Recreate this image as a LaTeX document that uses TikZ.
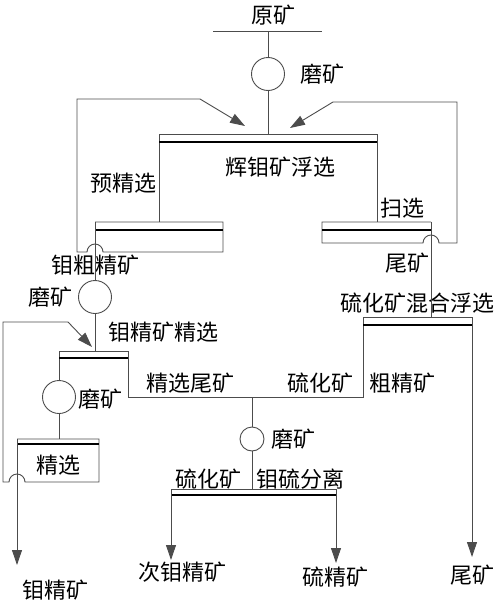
\documentclass[tikz,border=0pt]{standalone}
\usepackage{fontspec}
\setmainfont{Noto Sans CJK SC}
\usetikzlibrary{arrows.meta}

\begin{document}
\begin{tikzpicture}[x=1pt,y=-1pt,
  flow/.style={draw=black!70,line width=0.9pt},
  bar/.style={draw=black,line width=2.2pt},
  mill/.style={circle,draw=black!70,line width=0.9pt,minimum size=33pt,inner sep=0pt},
  smallmill/.style={mill,minimum size=24pt},
  lbl/.style={font=\fontsize{22}{24}\selectfont,inner sep=0pt},
  flowarrow/.style={flow,-{Triangle[length=15pt,width=10pt]}}]
\useasboundingbox (0,0) rectangle (500,605);

% points of the sheet
\coordinate (feedL) at (213,31);
\coordinate (feedR) at (322,31);
\coordinate (rough-l) at (159,134);
\coordinate (rough-r) at (377,134);
\coordinate (pre-l) at (95,222);
\coordinate (pre-r) at (223,222);
\coordinate (scav-l) at (322,222);
\coordinate (scav-r) at (431,222);
\coordinate (clean-l) at (59,351);
\coordinate (clean-r) at (128,351);
\coordinate (final-l) at (17,439);
\coordinate (final-r) at (99,439);
\coordinate (bulk-l) at (363,317);
\coordinate (bulk-r) at (472,317);
\coordinate (sep-l) at (171,489);
\coordinate (sep-r) at (336,489);
\coordinate (ret1) at (77,99);
\coordinate (ret1a) at (200,99);
\coordinate (rough-in1) at (245,126);
\coordinate (ret2) at (457,102);
\coordinate (ret2a) at (333,102);
\coordinate (rough-in2) at (290,128);
\coordinate (ret3) at (3,322);
\coordinate (ret3a) at (68,322);
\coordinate (clean-in) at (92,347);
\coordinate (mid-j) at (252,397);
\coordinate (conc-tip) at (17,565);
\coordinate (tail-tip) at (472,557);
\coordinate (moii-tip) at (171,560);
\coordinate (sulf-tip) at (336,563);

% mills
\node[mill] (mill1) at (268,74) {};
\node[mill] (mill2) at (95,297) {};
\node[mill] (mill3) at (59,397) {};
\node[smallmill] (mill4) at (252,439) {};

% texts
\node[lbl] (ore) at (273,15) {原矿};
\node[lbl] (mill1-t) at (322,74) {磨矿};
\node[lbl] (rough-t) at (280,167) {辉钼矿浮选};
\node[lbl] (pre-t) at (123,183) {预精选};
\node[lbl] (scav-t) at (402,208) {扫选};
\node[lbl] (rc-t) at (95,265) {钼粗精矿};
\node[lbl] (st-t) at (407,263) {尾矿};
\node[lbl] (mill2-t) at (50,297) {磨矿};
\node[lbl] (bulk-t) at (417,303) {硫化矿混合浮选};
\node[lbl] (clean-t) at (163,332) {钼精矿精选};
\node[lbl] (ct-t) at (190,383) {精选尾矿};
\node[lbl] (sm-t) at (320,383) {硫化矿};
\node[lbl] (bc-t) at (402,383) {粗精矿};
\node[lbl,anchor=west] (mill3-t) at (78,399) {磨矿};
\node[lbl] (mill4-t) at (293,439) {磨矿};
\node[lbl] (final-t) at (58,465) {精选};
\node[lbl] (sm2-t) at (208,479) {硫化矿};
\node[lbl] (sep-t) at (300,479) {钼硫分离};
\node[lbl] (moii-t) at (182,572) {次钼精矿};
\node[lbl] (sulf-t) at (335,577) {硫精矿};
\node[lbl] (tail-t) at (472,575) {尾矿};
\node[lbl] (conc-t) at (55,590) {钼精矿};

% feed and rougher
\draw[flow] (feedL) -- (feedR);
\draw[flow] (mill1.north) -- (mill1.north |- feedL);
\draw[flow] (mill1.south) -- (mill1 |- rough-l);
\draw[flow] (rough-l |- pre-l) -- (rough-l) -- (rough-r) -- (rough-r |- scav-l);
\draw[bar] ([yshift=-8pt]rough-l) -- ([yshift=-8pt]rough-r);

% pre-cleaner, tails back to rougher
\draw[flow] (pre-l) -- (pre-r) -- ++(0,30) coordinate (pre-b)
  -- ([xshift=8pt]pre-l |- pre-b) arc[start angle=0,end angle=-180,radius=8]
  -- (ret1 |- pre-b) -- (ret1) -- (ret1a);
\draw[flowarrow] (ret1a) -- (rough-in1);
\draw[bar] ([yshift=-8pt]pre-l) -- ([yshift=-8pt]pre-r);

% scavenger, concentrate back to rougher
\draw[flow] (scav-r) -- (scav-l) -- ++(0,21) coordinate (scav-b)
  -- ([xshift=-8pt]scav-r |- scav-b) arc[start angle=180,end angle=360,radius=8]
  -- (ret2 |- scav-b) -- (ret2) -- (ret2a);
\draw[flowarrow] (ret2a) -- (rough-in2);
\draw[bar] ([yshift=-8pt]scav-l) -- ([yshift=-8pt]scav-r);
\draw[flow] (scav-r) -- (scav-r |- bulk-l);

% regrind and cleaner
\draw[flow] (pre-l) -- (mill2.north);
\draw[flow] (mill2.south) -- (mill2 |- clean-l);
\draw[flow] (mill3.north) -- (clean-l) -- (clean-r) -- ++(0,46) coordinate (clean-b)
  -- (bulk-l |- clean-b) -- (bulk-l) -- (bulk-r);
\draw[bar] ([yshift=-7pt]clean-l) -- ([yshift=-7pt]clean-r);
\draw[flowarrow] (bulk-r) -- (tail-tip);
\draw[bar] ([yshift=-8pt]bulk-l) -- ([yshift=-8pt]bulk-r);

% final cleaner
\draw[flow] (mill3.south) -- (mill3 |- final-l);
\draw[flow] (final-l) -- (final-r) -- ++(0,43) coordinate (final-b)
  -- ([xshift=8pt]final-l |- final-b) arc[start angle=0,end angle=-180,radius=8]
  -- (ret3 |- final-b) -- (ret3) -- (ret3a);
\draw[flowarrow] (ret3a) -- (clean-in);
\draw[bar] ([yshift=-5pt]final-l) -- ([yshift=-5pt]final-r);
\draw[flowarrow] (final-l) -- (conc-tip);

% Mo-S separation
\draw[flow] (mid-j) -- (mill4.north);
\draw[flow] (mill4.south) -- (mill4 |- sep-l);
\draw[flow] (sep-l) -- (sep-r);
\draw[bar] ([yshift=-6pt]sep-l) -- ([yshift=-6pt]sep-r);
\draw[flowarrow] (sep-l) -- (moii-tip);
\draw[flowarrow] (sep-r) -- (sulf-tip);
\end{tikzpicture}
\end{document}
